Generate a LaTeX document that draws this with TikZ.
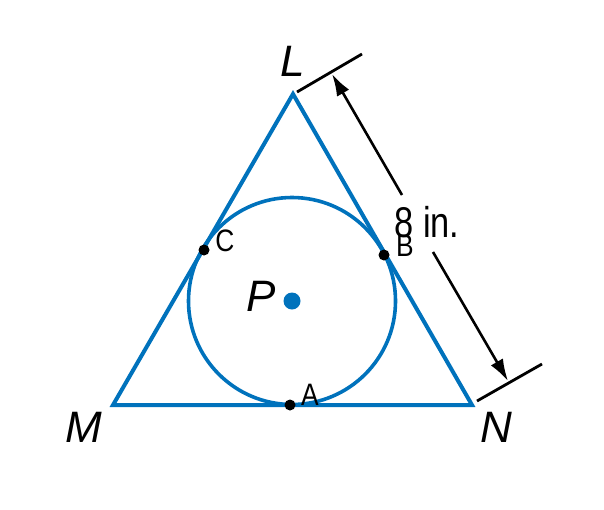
\documentclass[tikz,border=0pt]{standalone}
\usepackage{fontspec}
\setmainfont{Liberation Sans}
\usetikzlibrary{arrows.meta}
\definecolor{geoblue}{RGB}{0,114,188}
\begin{document}
\begin{tikzpicture}[x=1pt,y=-1pt,
  side/.style={draw=geoblue,line width=4pt,line join=miter},
  circ/.style={draw=geoblue,line width=3.6pt},
  dimline/.style={draw=black,line width=2.8pt},
  dimarrow/.style={draw=black,line width=2.6pt,-{Latex[length=22pt,width=14pt]}},
  ptdot/.style={circle,fill=black,inner sep=0pt,minimum size=11pt},
  vlabel/.style={inner sep=0pt,font=\fontsize{44}{48}\selectfont\itshape},
  plabel/.style={inner sep=0pt,font=\fontsize{31}{34}\selectfont,xscale=0.85},
  dlabel/.style={inner sep=0pt,font=\fontsize{43}{46}\selectfont,xscale=0.8}]
\useasboundingbox (0,0) rectangle (604,509);
\coordinate (L) at (293,94);
\coordinate (M) at (113,405);
\coordinate (N) at (472,405);
\draw[side] (L) -- (M) -- (N) -- cycle;
\node[circle,circ,minimum size=207pt,inner sep=0pt] (circ) at (292,301) {};
\node[circle,fill=geoblue,inner sep=0pt,minimum size=17pt] (P) at (292,301) {};
% tangent points
\node[ptdot] (C) at (204,250) {};
\node[ptdot] (B) at (384,255) {};
\node[ptdot] (A) at (290,405) {};
% labels
\node[vlabel] (Ll) at (293,61) {L};
\node[vlabel] (Ml) at (84,427) {M};
\node[vlabel] (Nl) at (496,427) {N};
\node[vlabel] (Pl) at (261,296) {P};
\node[plabel] (Cl) at (225,241) {C};
\node[plabel] (Bl) at (405,246) {B};
\node[plabel] (Al) at (310,395) {A};
\node[dlabel] (dim) at (427,222) {8 in.};
% dimension
\coordinate (e1a) at (297,92);
\coordinate (e1b) at (362,54);
\coordinate (e2a) at (477,401);
\coordinate (e2b) at (542,364);
\draw[dimline] (e1a) -- (e1b);
\draw[dimline] (e2a) -- (e2b);
\coordinate (t1) at (332,74);
\coordinate (t2) at (508,381);
\coordinate (g1) at (402,195);
\coordinate (g2) at (433,252);
\draw[dimarrow] (g1) -- (t1);
\draw[dimarrow] (g2) -- (t2);
\end{tikzpicture}
\end{document}
